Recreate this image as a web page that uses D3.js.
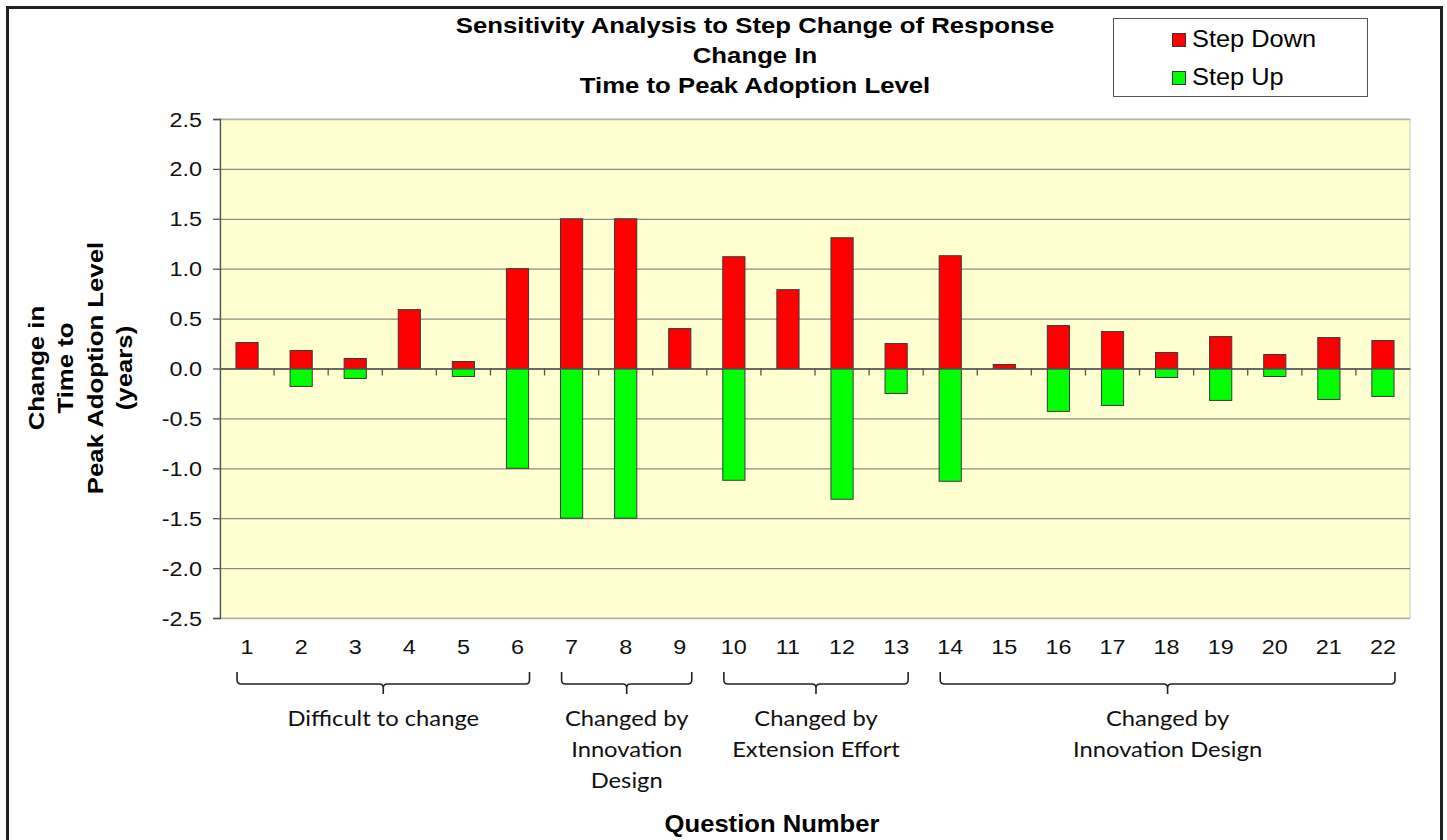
<!DOCTYPE html>
<html>
<head>
<meta charset="utf-8">
<script src="https://cdn.jsdelivr.net/npm/d3@7/dist/d3.min.js"></script>
<style>
  body { margin: 0; background: #fff; }
  text { font-family: "Liberation Sans", Arial, sans-serif; }
</style>
</head>
<body>
<script>
// data
var questions = d3.range(1, 23);
var stepDown = [0.26, 0.18, 0.10, 0.59, 0.07, 1.00, 1.50, 1.50, 0.40, 1.12, 0.79,
                1.31, 0.25, 1.13, 0.04, 0.43, 0.37, 0.16, 0.32, 0.14, 0.31, 0.28];
var stepUp = [0, -0.18, -0.10, 0, -0.08, -1.00, -1.50, -1.50, 0, -1.12, 0,
              -1.31, -0.25, -1.13, 0, -0.43, -0.37, -0.09, -0.32, -0.08, -0.31, -0.28];
var yTicks = [2.5, 2.0, 1.5, 1.0, 0.5, 0.0, -0.5, -1.0, -1.5, -2.0, -2.5];
var groups = [
    {from: 1, to: 6, label: ["Difficult to change"]},
    {from: 7, to: 9, label: ["Changed by", "Innovation", "Design"]},
    {from: 10, to: 13, label: ["Changed by", "Extension Effort"]},
    {from: 14, to: 22, label: ["Changed by", "Innovation Design"]}
];
var titleLines = ["Sensitivity Analysis to Step Change of Response", "Change In", "Time to Peak Adoption Level"];
var yTitleLines = ["Change in", "Time to", "Peak Adoption Level", "(years)"];
var seriesNames = ["Step Down", "Step Up"];
var colors = ["#ff0000", "#00ff00"];

var width = 1447, height = 840;
var plot = {left: 220, right: 1410, top: 119, bottom: 618};

var svg = d3.select("body").append("svg")
    .attr("width", width)
    .attr("height", height);

// text that is a bit wider than the font, like the original
function wideText(parent, x, sx) {
    return parent.append("g")
        .attr("transform", "translate(" + x + ",0) scale(" + sx + ",1)")
        .append("text");
}

// outer frame
svg.append("rect")
    .attr("x", 7.5).attr("y", 7.5)
    .attr("width", 1434).attr("height", 850)
    .attr("fill", "#fff")
    .attr("stroke", "#222")
    .attr("stroke-width", 3);

var x = d3.scaleBand()
    .domain(questions)
    .range([plot.left, plot.right]);
var y = d3.scaleLinear()
    .domain([-2.5, 2.5])
    .range([plot.bottom, plot.top]);

// plot background
svg.append("rect")
    .attr("x", plot.left).attr("y", plot.top)
    .attr("width", plot.right - plot.left)
    .attr("height", plot.bottom - plot.top)
    .attr("fill", "#ffffd2")
    .attr("stroke", "#c8c8b4");

// grid lines
svg.append("g").selectAll("line")
    .data(yTicks)
    .enter().append("line")
    .attr("x1", plot.left).attr("x2", plot.right)
    .attr("y1", d => y(d) + 0.5).attr("y2", d => y(d) + 0.5)
    .attr("stroke", d => (d == 2.5 || d == -2.5) ? "#b4b4a0" : "#8c8c84")
    .attr("stroke-width", 1.3);

// y axis
var tickSx = 1.2;
var yAxis = d3.axisLeft(y)
    .tickValues(yTicks)
    .tickFormat(d3.format(".1f"))
    .tickSize(7)
    .tickPadding(11);
var gy = svg.append("g")
    .attr("transform", "translate(" + plot.left + ",0)")
    .call(yAxis);
gy.select(".domain").attr("stroke", "#555").attr("stroke-width", 1.3);
gy.selectAll(".tick line").attr("stroke", "#555").attr("stroke-width", 1.3);
gy.selectAll(".tick text")
    .attr("font-size", 19.5)
    .attr("fill", "#111")
    .attr("dy", "0.36em")
    .attr("x", -18 / tickSx)
    .attr("transform", "scale(" + tickSx + ",1)")
    .text(d => d3.format(".1f")(d).replace("\u2212", "-"));

// bars
var barW = x.bandwidth() * 0.41;
var bars = svg.append("g");
[stepDown, stepUp].forEach(function (vals, s) {
    bars.selectAll(".s" + s)
        .data(vals.map((v, i) => ({q: questions[i], v: v})).filter(d => d.v != 0))
        .enter().append("rect")
        .attr("class", "s" + s)
        .attr("x", d => x(d.q) + (x.bandwidth() - barW) / 2)
        .attr("width", barW)
        .attr("y", d => y(Math.max(0, d.v)))
        .attr("height", d => Math.abs(y(d.v) - y(0)))
        .attr("fill", colors[s])
        .attr("stroke", "#3a3a3a")
        .attr("stroke-width", 1);
});

// x axis on the zero line: ticks between categories
var xAxis = d3.axisBottom(x).tickSize(0).tickFormat("");
var gx = svg.append("g")
    .attr("transform", "translate(0," + y(0) + ")")
    .call(xAxis);
gx.select(".domain").attr("stroke", "#555").attr("stroke-width", 1.3);
gx.selectAll(".sep")
    .data(questions.slice(1))
    .enter().append("line")
    .attr("class", "sep")
    .attr("x1", d => x(d)).attr("x2", d => x(d))
    .attr("y1", 0).attr("y2", 7)
    .attr("stroke", "#555").attr("stroke-width", 1.3);

// category labels below plot
var xl = svg.append("g");
questions.forEach(function (q) {
    wideText(xl, x(q) + x.bandwidth() / 2, tickSx)
        .attr("y", 654)
        .attr("text-anchor", "middle")
        .attr("font-size", 19.5)
        .attr("fill", "#111")
        .text(q);
});

// group brackets
var bk = svg.append("g");
groups.forEach(function (g) {
    var x0 = x(g.from) + x.bandwidth() / 2 - 10;
    var x1 = x(g.to) + x.bandwidth() / 2 + 12;
    var xm = (x0 + x1) / 2;
    var yt = 672, yb = 684, r = 4;
    var p = d3.path();
    p.moveTo(x0, yt);
    p.lineTo(x0, yb - r);
    p.quadraticCurveTo(x0, yb, x0 + r, yb);
    p.lineTo(xm - r, yb);
    p.quadraticCurveTo(xm, yb, xm, yb + r);
    p.lineTo(xm, yb + 10);
    p.moveTo(xm, yb + r);
    p.quadraticCurveTo(xm, yb, xm + r, yb);
    p.lineTo(x1 - r, yb);
    p.quadraticCurveTo(x1, yb, x1, yb - r);
    p.lineTo(x1, yt);
    bk.append("path")
        .attr("d", p.toString())
        .attr("fill", "none")
        .attr("stroke", "#222")
        .attr("stroke-width", 1.6);
    var t = wideText(bk, xm, 1.08)
        .attr("text-anchor", "middle")
        .attr("font-size", 22)
        .style("font-family", "Lato, 'Open Sans', sans-serif")
        .attr("fill", "#111");
    g.label.forEach(function (line, i) {
        t.append("tspan")
            .attr("x", 0)
            .attr("y", 726 + i * 31)
            .text(line);
    });
});

// title
var title = wideText(svg, 755, 1.12)
    .attr("text-anchor", "middle")
    .attr("font-size", 23)
    .attr("font-weight", "bold")
    .attr("fill", "#000");
titleLines.forEach(function (line, i) {
    title.append("tspan")
        .attr("x", 0)
        .attr("y", 33 + i * 29.8)
        .text(line);
});

// y axis title
var yt = svg.append("g")
    .attr("transform", "translate(0,368) rotate(-90) scale(1.12,1)")
    .append("text")
    .attr("text-anchor", "middle")
    .attr("font-size", 23)
    .attr("font-weight", "bold")
    .attr("fill", "#000");
yTitleLines.forEach(function (line, i) {
    yt.append("tspan")
        .attr("x", 0)
        .attr("y", 44 + i * 29.4)
        .text(line);
});

// x axis title
wideText(svg, 772, 1.09)
    .attr("y", 832)
    .attr("text-anchor", "middle")
    .attr("font-size", 23.5)
    .attr("font-weight", "bold")
    .attr("fill", "#000")
    .text("Question Number");

// legend
var lg = svg.append("g");
lg.append("rect")
    .attr("x", 1113.5).attr("y", 18.5)
    .attr("width", 254).attr("height", 78)
    .attr("fill", "#fff")
    .attr("stroke", "#555")
    .attr("stroke-width", 1);
seriesNames.forEach(function (name, i) {
    lg.append("rect")
        .attr("x", 1172.5).attr("y", 33.5 + i * 38)
        .attr("width", 13).attr("height", 13)
        .attr("fill", colors[i])
        .attr("stroke", "#3a3a3a");
    wideText(lg, 1192, 1.08)
        .attr("y", 47 + i * 38)
        .attr("font-size", 23.5)
        .attr("fill", "#000")
        .text(name);
});
</script>
</body>
</html>
